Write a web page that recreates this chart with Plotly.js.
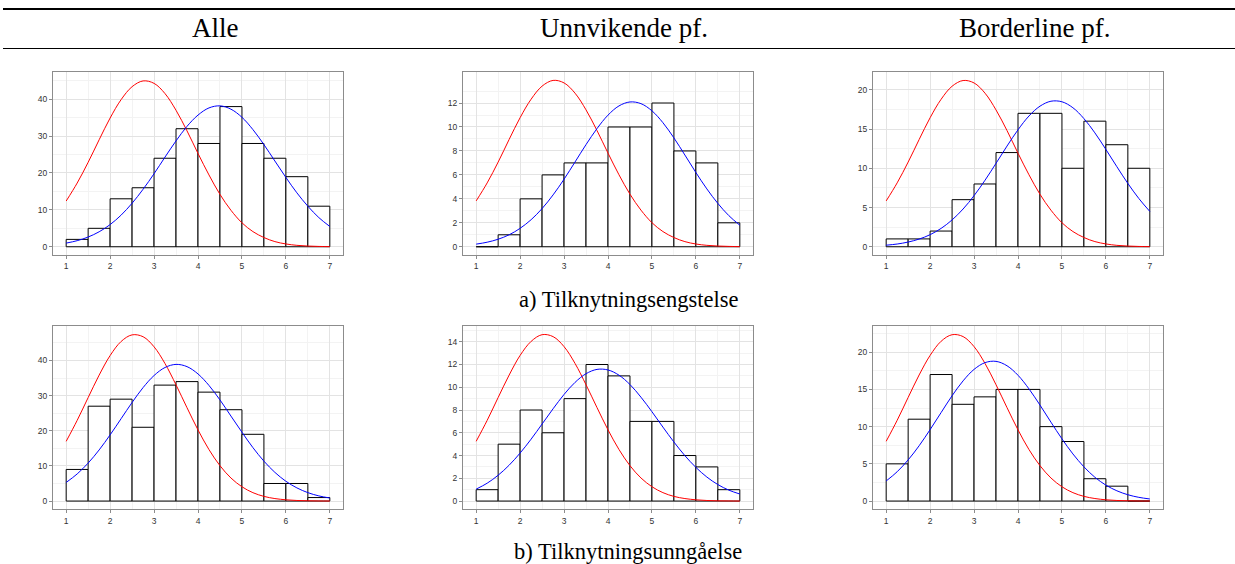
<!DOCTYPE html>
<html>
<head>
<meta charset="utf-8">
<script src="https://cdn.plot.ly/plotly-3.0.1.min.js"></script>
<style>
  html, body { margin: 0; padding: 0; background: #ffffff; }
  #chart { width: 1235px; height: 564px; }
</style>
</head>
<body>
<div id="chart"></div>
<script>
// ---------- DATA ----------
const columnTitles = ["Alle", "Unnvikende pf.", "Borderline pf."];
const rowCaptions = ["a) Tilknytningsengstelse", "b) Tilknytningsunngåelse"];

const binCenters = [1.25, 1.75, 2.25, 2.75, 3.25, 3.75, 4.25, 4.75, 5.25, 5.75, 6.25, 6.75];
const binWidth = 0.5;
const curveX = [1, 1.25, 1.5, 1.75, 2, 2.25, 2.5, 2.75, 3, 3.25, 3.5, 3.75, 4,
                4.25, 4.5, 4.75, 5, 5.25, 5.5, 5.75, 6, 6.25, 6.5, 6.75, 7];
const xTickVals = [1, 2, 3, 4, 5, 6, 7];

// a) Tilknytningsengstelse
const engAlleCounts = [2, 5, 13, 16, 24, 32, 28, 38, 28, 24, 19, 11];
const engUnnCounts  = [0, 1, 4, 6, 7, 7, 10, 10, 12, 8, 7, 2];
const engBordCounts = [1, 1, 2, 6, 8, 12, 17, 17, 10, 16, 13, 10];
const engAlleRed  = [12.4, 17.27, 22.9, 29.0, 34.9, 39.89, 43.4, 44.96, 44.3, 41.51, 37.0, 31.41, 25.3, 19.47, 14.2, 9.89, 6.5, 4.11, 2.5, 1.40, 0.76, 0.39, 0.19, 0.09, 0.04];
const engAlleBlue = [0.99, 1.65, 2.64, 4.06, 6.01, 8.58, 11.8, 15.59, 19.8, 24.33, 28.7, 32.65, 35.7, 37.64, 38.2, 37.30, 35.1, 31.77, 27.7, 23.25, 18.8, 14.63, 11.0, 7.91, 5.5];
const engUnnRed   = [3.83, 5.33, 7.07, 8.96, 10.78, 12.32, 13.41, 13.89, 13.68, 12.82, 11.43, 9.70, 7.82, 6.01, 4.39, 3.06, 2.01, 1.27, 0.77, 0.43, 0.23, 0.12, 0.06, 0.03, 0.01];
const engUnnBlue  = [0.22, 0.38, 0.63, 1.00, 1.54, 2.26, 3.19, 4.33, 5.64, 7.08, 8.53, 9.87, 10.99, 11.76, 12.09, 11.95, 11.35, 10.36, 9.09, 7.66, 6.2, 4.83, 3.62, 2.60, 1.8];
const engBordRed  = [5.84, 8.14, 10.79, 13.66, 16.44, 18.79, 20.45, 21.18, 20.87, 19.56, 17.43, 14.80, 11.92, 9.17, 6.69, 4.66, 3.06, 1.94, 1.18, 0.66, 0.36, 0.18, 0.09, 0.04, 0.02];
const engBordBlue = [0.2, 0.35, 0.6, 0.98, 1.54, 2.34, 3.42, 4.81, 6.51, 8.48, 10.63, 12.83, 14.9, 16.66, 17.91, 18.54, 18.47, 17.71, 16.33, 14.51, 12.4, 10.20, 8.07, 6.15, 4.5];

// b) Tilknytningsunngåelse
const unnAlleCounts = [9, 27, 29, 21, 33, 34, 31, 26, 19, 5, 5, 1];
const unnUnnCounts  = [1, 5, 8, 6, 9, 12, 11, 7, 7, 4, 3, 1];
const unnBordCounts = [5, 11, 17, 13, 14, 15, 15, 10, 8, 3, 2, 0];
const unnAlleRed  = [17.0, 22.96, 29.45, 35.84, 41.41, 45.42, 47.3, 46.77, 43.9, 39.11, 33.07, 26.56, 20.25, 14.65, 10.07, 6.56, 4.07, 2.39, 1.33, 0.71, 0.36, 0.17, 0.08, 0.03, 0.01];
const unnAlleBlue = [5.3, 7.72, 10.81, 14.55, 18.84, 23.45, 28.06, 32.30, 35.73, 38.02, 38.9, 38.26, 36.18, 32.91, 28.78, 24.19, 19.6, 15.21, 11.36, 8.17, 5.64, 3.75, 2.4, 1.47, 0.87];
const unnUnnRed   = [5.25, 7.09, 9.1, 11.07, 12.8, 14.03, 14.62, 14.45, 13.57, 12.09, 10.22, 8.21, 6.26, 4.53, 3.11, 2.03, 1.26, 0.74, 0.41, 0.22, 0.11, 0.05, 0.02, 0.01, 0.0];
const unnUnnBlue  = [1.05, 1.57, 2.27, 3.15, 4.22, 5.44, 6.77, 8.11, 9.37, 10.43, 11.19, 11.57, 11.52, 11.06, 10.24, 9.13, 7.85, 6.50, 5.19, 3.99, 2.96, 2.11, 1.45, 0.96, 0.62];
const unnBordRed  = [8.03, 10.85, 13.92, 16.94, 19.57, 21.47, 22.35, 22.10, 20.75, 18.48, 15.63, 12.55, 9.57, 6.92, 4.76, 3.10, 1.92, 1.13, 0.63, 0.34, 0.17, 0.08, 0.04, 0.01, 0.01];
const unnBordBlue = [2.7, 3.94, 5.53, 7.43, 9.6, 11.89, 14.15, 16.15, 17.69, 18.60, 18.77, 18.18, 16.9, 15.07, 12.9, 10.60, 8.36, 6.33, 4.6, 3.20, 2.14, 1.38, 0.85, 0.50, 0.28];

// ---------- PANEL SETUP (layout only) ----------
const panels = [
  {counts: engAlleCounts, red: engAlleRed, blue: engAlleBlue, row: 0, col: 0, yTop: 45.2, dtick: 10},
  {counts: engUnnCounts,  red: engUnnRed,  blue: engUnnBlue,  row: 0, col: 1, yTop: 13.92, dtick: 2},
  {counts: engBordCounts, red: engBordRed, blue: engBordBlue, row: 0, col: 2, yTop: 21.24, dtick: 5},
  {counts: unnAlleCounts, red: unnAlleRed, blue: unnAlleBlue, row: 1, col: 0, yTop: 47.45, dtick: 10},
  {counts: unnUnnCounts,  red: unnUnnRed,  blue: unnUnnBlue,  row: 1, col: 1, yTop: 14.65, dtick: 2},
  {counts: unnBordCounts, red: unnBordRed, blue: unnBordBlue, row: 1, col: 2, yTop: 22.4, dtick: 5}
];

const W = 1235, H = 564;
const colLeft = [53, 463, 873];
const plotW = 290;
const rowTop = [71.7, 326];
const plotH = 183.4;

const traces = [];
const layout = {
  width: W, height: H,
  margin: {l: 0, r: 0, t: 0, b: 0},
  paper_bgcolor: '#ffffff',
  plot_bgcolor: '#ffffff',
  showlegend: false,
  bargap: 0,
  font: {family: 'Liberation Sans, Arial, sans-serif', size: 9, color: '#333333'},
  annotations: [],
  shapes: []
};

const gridMajor = '#e3e3e3';
const gridMinor = '#f3f3f3';
const borderCol = '#8c8c8c';
const tickFont = {family: 'Liberation Sans, Arial, sans-serif', size: 8.5, color: '#333333'};

function seq(start, step, stop) {
  const out = [];
  for (let v = start; v <= stop + 1e-9; v += step) out.push(+v.toFixed(6));
  return out;
}

panels.forEach((p, i) => {
  const n = i + 1;
  const xa = 'x' + (n === 1 ? '' : n);
  const ya = 'y' + (n === 1 ? '' : n);
  const xKey = 'xaxis' + (n === 1 ? '' : n);
  const yKey = 'yaxis' + (n === 1 ? '' : n);

  traces.push({
    type: 'bar', x: binCenters, y: p.counts, width: binWidth,
    xaxis: xa, yaxis: ya,
    marker: {color: '#ffffff', line: {color: '#000000', width: 1}},
    hoverinfo: 'skip'
  });
  traces.push({
    type: 'scatter', mode: 'lines', x: curveX, y: p.red,
    xaxis: xa, yaxis: ya,
    line: {color: '#ff0000', width: 1, shape: 'spline', smoothing: 1},
    hoverinfo: 'skip'
  });
  traces.push({
    type: 'scatter', mode: 'lines', x: curveX, y: p.blue,
    xaxis: xa, yaxis: ya,
    line: {color: '#0000ff', width: 1, shape: 'spline', smoothing: 1},
    hoverinfo: 'skip'
  });

  const x0 = colLeft[p.col], x1 = x0 + plotW;
  const yt = rowTop[p.row], yb = yt + plotH;
  const yRange = [-0.05 * p.yTop, 1.05 * p.yTop];

  layout[xKey] = {
    domain: [x0 / W, x1 / W],
    anchor: ya,
    range: [0.7, 7.3],
    tickmode: 'array', tickvals: xTickVals,
    ticks: 'outside', ticklen: 3, tickwidth: 1, tickcolor: borderCol,
    showline: true, linecolor: borderCol, linewidth: 1, mirror: true,
    showgrid: true, gridcolor: gridMajor, gridwidth: 1,
    minor: {tickmode: 'array', tickvals: seq(1.5, 1, 6.5), showgrid: true, gridcolor: gridMinor, gridwidth: 1, ticks: ''},
    zeroline: false,
    tickfont: tickFont,
    fixedrange: true
  };
  layout[yKey] = {
    domain: [1 - yb / H, 1 - yt / H],
    anchor: xa,
    range: yRange,
    tickmode: 'array', tickvals: seq(0, p.dtick, p.yTop),
    ticks: 'outside', ticklen: 3, tickwidth: 1, tickcolor: borderCol,
    showline: true, linecolor: borderCol, linewidth: 1, mirror: true,
    showgrid: true, gridcolor: gridMajor, gridwidth: 1,
    minor: {tickmode: 'array', tickvals: seq(p.dtick / 2, p.dtick, yRange[1]), showgrid: true, gridcolor: gridMinor, gridwidth: 1, ticks: ''},
    zeroline: false,
    tickfont: tickFont,
    fixedrange: true
  };
});

// Column headers
const headerCenters = [215, 624, 1034];
columnTitles.forEach((t, c) => {
  layout.annotations.push({
    text: t, xref: 'paper', yref: 'paper',
    x: headerCenters[c] / W, y: 1 - 28 / H,
    xanchor: 'center', yanchor: 'middle', showarrow: false,
    font: {family: 'Liberation Serif, Times New Roman, serif', size: 27, color: '#000000'}
  });
});

// Row captions
const captionY = [299, 551];
rowCaptions.forEach((t, r) => {
  layout.annotations.push({
    text: t, xref: 'paper', yref: 'paper',
    x: 628 / W, y: 1 - captionY[r] / H,
    xanchor: 'center', yanchor: 'middle', showarrow: false,
    font: {family: 'Liberation Serif, Times New Roman, serif', size: 22.5, color: '#000000'}
  });
});

// Table rules
layout.shapes.push({type: 'line', xref: 'paper', yref: 'paper', x0: 3 / W, x1: 1, y0: 1 - 9 / H, y1: 1 - 9 / H, line: {color: '#000000', width: 2}});
layout.shapes.push({type: 'line', xref: 'paper', yref: 'paper', x0: 3 / W, x1: 1, y0: 1 - 48.5 / H, y1: 1 - 48.5 / H, line: {color: '#000000', width: 1.2}});

Plotly.newPlot('chart', traces, layout, {staticPlot: true, displayModeBar: false});
</script>
</body>
</html>
